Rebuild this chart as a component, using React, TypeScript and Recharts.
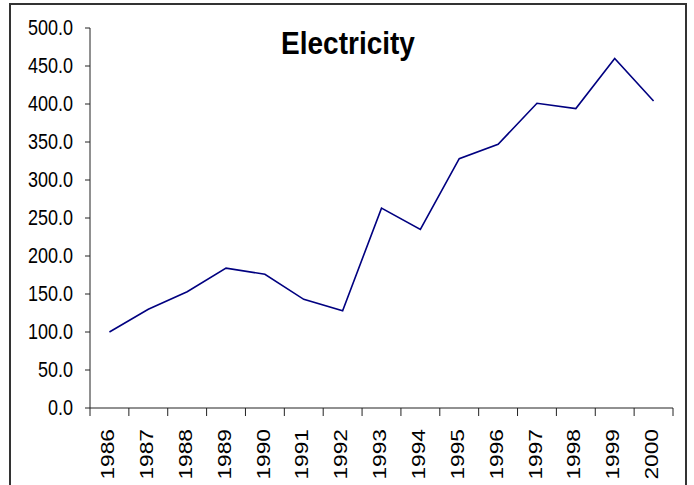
import React from 'react';
import { LineChart, Line, XAxis, YAxis } from 'recharts';

const years = ['1986', '1987', '1988', '1989', '1990', '1991', '1992', '1993', '1994', '1995', '1996', '1997', '1998', '1999', '2000'];
const electricity = [100, 130, 153, 184, 176, 143, 128, 263, 235, 328, 347, 401, 394, 460, 404];
const yTicks = [0, 50, 100, 150, 200, 250, 300, 350, 400, 450, 500];

const data = years.map((year, i) => ({ year, value: electricity[i] }));

const font = '"Liberation Sans", Arial, sans-serif';
const half = 583 / 15 / 2;

// category label rotated, plus the tick marks on the band edges (Excel style)
const YearTick = (props: any) => {
  const { x, y, payload, index } = props;
  return (
    <g>
      <line x1={x - half} y1={y} x2={x - half} y2={y + 8} stroke="#222" />
      {index === years.length - 1 && <line x1={x + half} y1={y} x2={x + half} y2={y + 8} stroke="#222" />}
      <text
        transform={`translate(${x - 1.5}, ${y + 21}) rotate(-90) scale(1.3, 1)`}
        textAnchor="end"
        dy="0.35em"
        fontSize={17.5}
        fontFamily={font}
        fill="#000"
      >
        {payload.value}
      </text>
    </g>
  );
};

const ValueTick = (props: any) => {
  const { x, y, payload } = props;
  return (
    <text
      transform={`translate(${x}, ${y}) scale(1, 1.18)`}
      textAnchor="end"
      dy="0.35em"
      fontSize={18}
      fontFamily={font}
      fill="#000"
    >
      {Number(payload.value).toFixed(1)}
    </text>
  );
};

const App = () => {
  return (
    <div style={{ position: 'absolute', left: 0, top: 0, width: 694, height: 485, overflow: 'hidden', background: '#fff' }}>
      <div
        style={{
          position: 'absolute',
          left: 9,
          top: 3,
          width: 678,
          height: 520,
          boxSizing: 'border-box',
          border: '2px solid #333',
        }}
      />
      <LineChart
        width={694}
        height={485}
        data={data}
        margin={{ top: 28, right: 21, bottom: 7, left: 30 }}
        style={{ position: 'absolute', left: 0, top: 0, fontFamily: font }}
      >
        <XAxis
          dataKey="year"
          padding={{ left: half, right: half }}
          stroke="#222"
          tickLine={false}
          tickSize={0}
          tickMargin={0}
          height={70}
          interval={0}
          tick={<YearTick />}
        />
        <YAxis
          domain={[0, 500]}
          ticks={yTicks}
          width={60}
          tickSize={5}
          tickMargin={12}
          stroke="#222"
          tick={<ValueTick />}
        />
        <Line
          dataKey="value"
          stroke="#000080"
          strokeWidth={1.6}
          dot={false}
          isAnimationActive={false}
        />
      </LineChart>
      <svg width={694} height={485} style={{ position: 'absolute', left: 0, top: 0, pointerEvents: 'none' }}>
        <text
          transform="translate(348, 54) scale(1, 1.1)"
          textAnchor="middle"
          fontFamily={font}
          fontWeight="bold"
          fontSize={28}
          fill="#000"
        >
          Electricity
        </text>
      </svg>
    </div>
  );
};

export default App;
